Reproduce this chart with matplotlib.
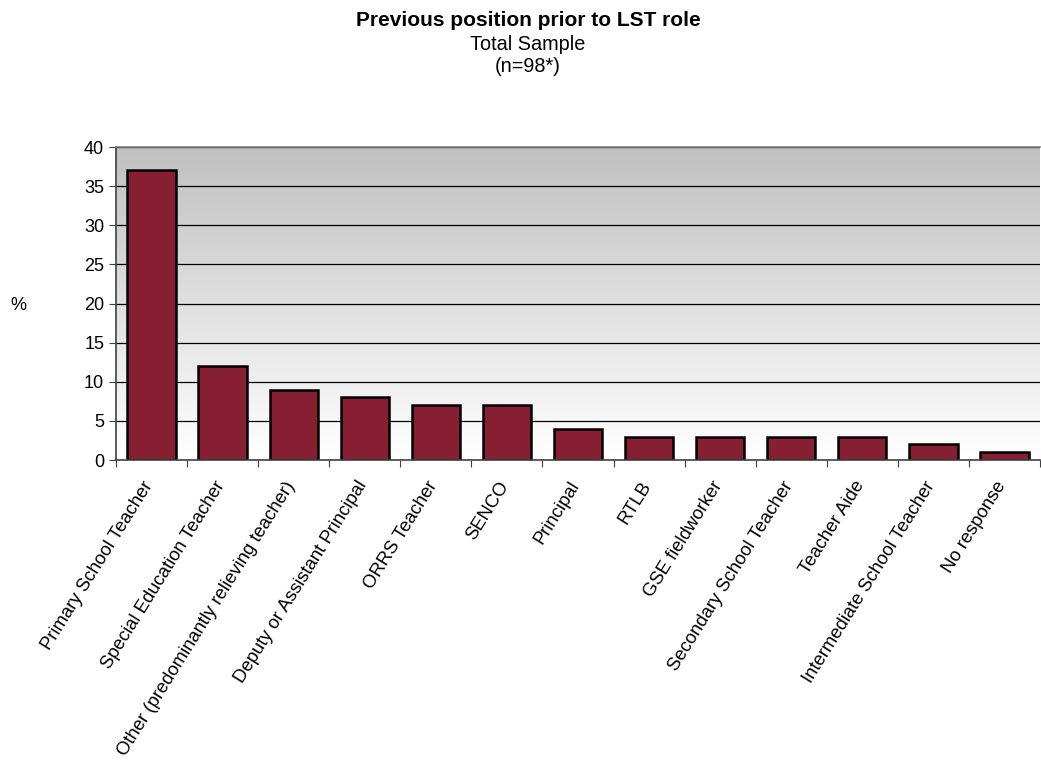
import numpy as np
import matplotlib
matplotlib.use("Agg")
import matplotlib.pyplot as plt
import matplotlib.transforms as mtrans
from matplotlib.colors import LinearSegmentedColormap

plt.rcParams['font.family'] = ['Liberation Sans', 'DejaVu Sans']

categories = ["Primary School Teacher", "Special Education Teacher",
              "Other (predominantly relieving teacher)", "Deputy or Assistant Principal",
              "ORRS Teacher", "SENCO", "Principal", "RTLB", "GSE fieldworker",
              "Secondary School Teacher", "Teacher Aide", "Intermediate School Teacher",
              "No response"]
values = [37, 12, 9, 8, 7, 7, 4, 3, 3, 3, 3, 2, 1]

fig = plt.figure(figsize=(10.41, 7.69), dpi=100)
ax = fig.add_axes([116/1041, 1-460/769, 924/1041, 313/769])

n = len(categories)
x = np.arange(n)
ax.set_xlim(-0.5, n-0.5)
ax.set_ylim(0, 40)

# gradient background
cmap = LinearSegmentedColormap.from_list("bg", ["#ffffff", "#c0c0c0"])
grad = np.linspace(0, 1, 256).reshape(-1, 1)
ax.imshow(grad, aspect='auto', cmap=cmap, origin='lower',
          extent=[-0.5, n-0.5, 0, 40], zorder=0)

for y in range(5, 45, 5):
    ax.axhline(y, color='black', lw=0.9, zorder=1)

ax.bar(x, values, width=0.68, color='#861F32', edgecolor='black', lw=1.8, zorder=2)

ax.set_yticks(range(0, 45, 5))
ax.set_xticks(np.arange(-0.5, n, 1), minor=False)
ax.set_xticklabels([])
ax.set_xticks(x, minor=True)
labels = ax.set_xticklabels(categories, minor=True, rotation=58, ha='right',
                            rotation_mode='anchor', fontsize=13.3)
ax.tick_params(axis='x', which='minor', length=0, pad=13)
ax.tick_params(axis='x', which='major', length=5, color='#404040', direction='out')
ax.tick_params(axis='y', length=5, color='#404040', labelsize=13)
offset = mtrans.ScaledTranslation(-9/100, 0, fig.dpi_scale_trans)
for lab in ax.get_xticklabels(minor=True):
    lab.set_transform(lab.get_transform() + offset)

for s in ['left', 'bottom']:
    ax.spines[s].set_color('#404040')
    ax.spines[s].set_linewidth(1.2)
ax.spines['top'].set_color('#808080')
ax.spines['top'].set_linewidth(1.2)
ax.spines['right'].set_visible(False)

cx = 528/1041
fig.text(10/1041, 1-305/769, '%', fontsize=13, ha='left', va='center')
fig.text(cx, 1-20/769, 'Previous position prior to LST role', fontsize=15,
         fontweight='bold', ha='center', va='center')
fig.text(cx, 1-44/769, 'Total Sample', fontsize=14.3, ha='center', va='center')
fig.text(cx, 1-66/769, '(n=98*)', fontsize=14.3, ha='center', va='center')

fig.savefig('out.png', dpi=100)
